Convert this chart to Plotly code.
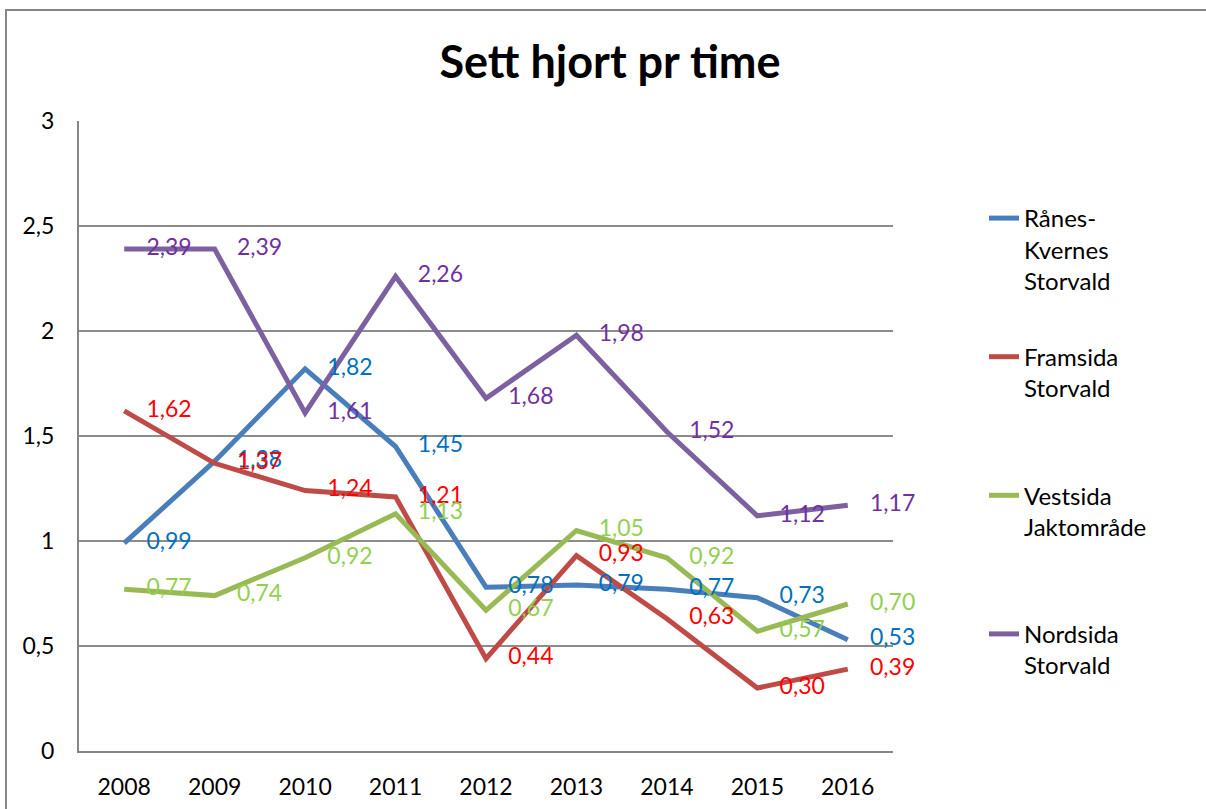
import plotly.graph_objects as go

years = ["2008", "2009", "2010", "2011", "2012", "2013", "2014", "2015", "2016"]
series_names = ["Rånes-<br>Kvernes<br>Storvald", "Framsida<br>Storvald<br>\u00a0",
                "Vestsida<br>Jaktområde<br>\u00a0", "Nordsida<br>Storvald<br>\u00a0"]
raanes = [0.99, 1.38, 1.82, 1.45, 0.78, 0.79, 0.77, 0.73, 0.53]
framsida = [1.62, 1.37, 1.24, 1.21, 0.44, 0.93, 0.63, 0.30, 0.39]
vestsida = [0.77, 0.74, 0.92, 1.13, 0.67, 1.05, 0.92, 0.57, 0.70]
nordsida = [2.39, 2.39, 1.61, 2.26, 1.68, 1.98, 1.52, 1.12, 1.17]
y_ticks = [0, 0.5, 1, 1.5, 2, 2.5, 3]

all_values = [raanes, framsida, vestsida, nordsida]
line_colors = ["#4A7EBB", "#BE4B48", "#98B954", "#7D60A0"]
label_colors = ["#0070C0", "#FF0000", "#92D050", "#7030A0"]

FONT = "Lato"
fig = go.Figure()

for i, (name, vals) in enumerate(zip(series_names, all_values)):
    fig.add_trace(go.Scatter(
        x=years, y=vals, mode="lines", name=name,
        line=dict(color=line_colors[i], width=5),
        legendgroup=f"g{i}", showlegend=True,
    ))

for i, vals in enumerate(all_values):
    fig.add_trace(go.Scatter(
        x=years, y=vals, mode="markers+text",
        text=[f"{v:.2f}".replace(".", ",") for v in vals],
        textposition="middle right",
        textfont=dict(family=FONT, size=23, color=label_colors[i]),
        marker=dict(size=34, opacity=0),
        cliponaxis=False,
        showlegend=False, hoverinfo="skip",
    ))

L, R, T, B = 79, 893, 121, 751
W, H = 1206, 809
pw, ph = R - L, B - T

def px_x(p):
    return (p - L) / pw

def px_y(p):
    return (B - p) / ph

fig.add_shape(type="rect", xref="paper", yref="paper",
              x0=px_x(6), x1=px_x(1212), y0=px_y(830), y1=px_y(10),
              line=dict(color="#868686", width=2), layer="below")

fig.update_layout(
    width=W, height=H,
    margin=dict(l=L, r=W - R, t=T, b=H - B, autoexpand=False),
    paper_bgcolor="white", plot_bgcolor="white",
    separators=", ",
    font=dict(family=FONT, size=23, color="black"),
    title=dict(text="<b>Sett hjort pr time</b>", font=dict(family=FONT, size=45, color="black"),
               x=610 / W, xref="container", xanchor="center",
               y=1 - 62 / H, yref="container", yanchor="middle"),
    showlegend=True,
    legend=dict(x=px_x(984), y=px_y(196), xanchor="left", yanchor="top",
                font=dict(family=FONT, size=24, color="black"),
                traceorder="grouped", tracegroupgap=42, valign="top",
                bgcolor="rgba(0,0,0,0)"),
    xaxis=dict(type="category", range=[-0.5, 8.5], showgrid=False, zeroline=False,
               showline=True, linecolor="#868686", linewidth=2, automargin=False,
               ticks="", ticklabelstandoff=14,
               tickfont=dict(family=FONT, size=23, color="black")),
    yaxis=dict(range=[0, 3], tickvals=y_ticks, showgrid=True, gridcolor="#8C8C8C", gridwidth=1.5,
               zeroline=False, showline=True, linecolor="#868686", linewidth=2, automargin=False,
               ticks="", ticklabelstandoff=18,
               tickfont=dict(family=FONT, size=23, color="black")),
)

fig.write_html("out.html", config={"displayModeBar": False},
               post_script="document.body.style.margin='0';")
